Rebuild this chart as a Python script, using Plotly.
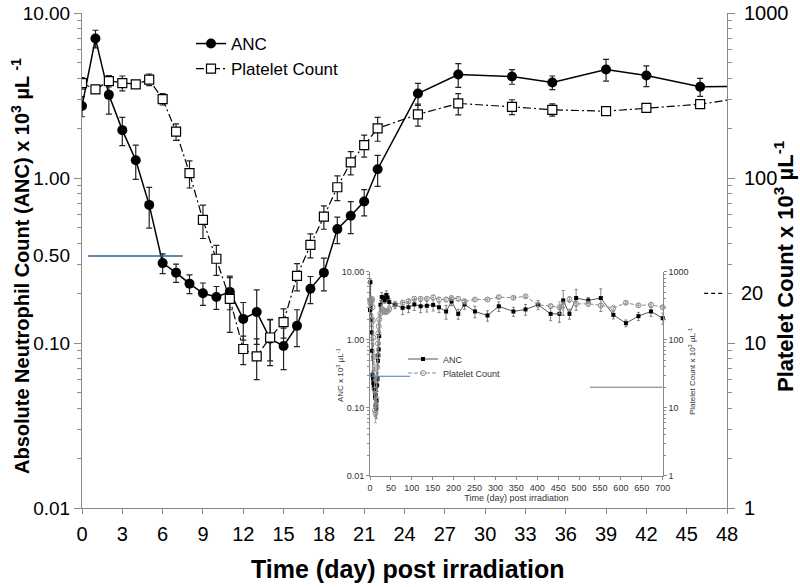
import plotly.graph_objects as go
import math

# ---------------- data (main panel, first 48 days) ----------------
days = [0, 1, 2, 3, 4, 5, 6, 7, 8, 9, 10, 11, 12, 13, 14, 15, 16, 17, 18, 19, 20, 21, 22,
        25, 28, 32, 35, 39, 42, 46, 49]
anc = [2.73, 7.0, 3.19, 1.95, 1.28, 0.687, 0.305, 0.267, 0.229, 0.200, 0.190, 0.204, 0.140,
       0.154, 0.106, 0.096, 0.127, 0.213, 0.267, 0.49, 0.59, 0.72, 1.13,
       3.25, 4.24, 4.12, 3.79, 4.55, 4.18, 3.57, 3.6]
anc_se = [0.38, 0.86, 0.75, 0.38, 0.30, 0.19, 0.042, 0.034, 0.030, 0.031, 0.030, 0.045, 0.036,
          0.056, 0.033, 0.027, 0.032, 0.040, 0.060, 0.09, 0.13, 0.13, 0.24,
          0.5, 0.7, 0.42, 0.36, 0.68, 0.6, 0.45, 0.45]
plt = [376, 344, 387, 376, 369, 395, 301, 191, 107, 55.7, 32.4, 18.5, 9.2, 8.3, 10.8, 13.4,
       25.5, 39.3, 58.3, 87.9, 124.5, 158, 200, 243, 283, 270, 259, 254, 266, 280, 305]
plt_se = [30, 18, 31, 39, 15, 32, 24, 22, 20, 12.7, 6.7, 6.9, 1.8, 2.3, 3.0, 2.7, 4.8, 6.5,
          9.4, 15, 20, 24, 33, 37, 42, 28, 22, 10, 10, 10, 10]

# ---------------- data (inset, long-term follow-up) ----------------
days_lt = [60, 78, 92, 106, 121, 136, 151, 165, 182, 195, 211, 226, 251, 281, 308, 343, 372,
           402, 432, 453, 462, 477, 493, 522, 552, 582, 612, 642, 672, 700]
anc_lt = [3.26, 2.94, 3.0, 3.3, 3.1, 3.15, 3.25, 3.0, 2.6, 3.66, 2.4, 3.3, 2.6, 2.27, 3.1, 2.6,
          2.79, 3.26, 2.4, 2.4, 3.78, 2.4, 4.1, 3.78, 4.1, 2.32, 1.75, 2.22, 2.6, 2.07]
anc_lt_se = [0.4, 0.6, 0.5, 0.6, 0.6, 0.6, 0.6, 0.5, 0.6, 0.5, 0.4, 0.5, 0.5, 0.4, 0.5, 0.4,
             0.5, 0.5, 0.5, 0.6, 1.5, 0.4, 1.4, 0.4, 1.5, 0.3, 0.2, 0.3, 0.4, 0.4]
plt_lt = [330, 349, 366, 400, 400, 400, 419, 390, 390, 410, 400, 366, 390, 390, 423, 414, 434,
          326, 312, 300, 320, 392, 337, 337, 320, 292, 349, 320, 326, 300]
plt_lt_se = [30, 30, 30, 30, 30, 30, 30, 30, 30, 30, 30, 30, 20, 20, 20, 20, 20, 20, 20, 60,
             40, 40, 30, 30, 20, 20, 20, 20, 20, 20]

# threshold reference marks
anc_mark_value = 0.337          # drawn level labelled "0.50" in the original
anc_mark_days = [0.45, 7.5]
plt_mark_value = 20
plt_mark_days = [46.3, 47.8]
inset_anc_mark_value = 0.29
inset_anc_mark_days = [0, 96]
inset_plt_mark_value = 20
inset_plt_mark_days = [526, 700]

x_ticks = list(range(0, 49, 3))
inset_x_ticks = list(range(0, 701, 50))

def minor_vals(lo, hi):
    out = []
    for k in range(math.floor(lo) - 1, math.ceil(hi) + 1):
        for m in range(2, 10):
            v = m * 10 ** k
            if 10 ** lo < v < 10 ** hi:
                out.append(v)
    return out

AX = "#8a8a8a"
FONT = "Liberation Sans, Arial, sans-serif"

fig = go.Figure()

# main traces
fig.add_trace(go.Scatter(
    x=days, y=anc, name="ANC", mode="lines+markers", xaxis="x", yaxis="y",
    line=dict(color="black", width=1.5),
    marker=dict(symbol="circle", size=10, color="black"),
    error_y=dict(type="data", array=anc_se, color="#222", thickness=1.2, width=3),
    legend="legend"))
fig.add_trace(go.Scatter(
    x=days, y=plt, name="Platelet Count", mode="lines+markers", xaxis="x", yaxis="y2",
    line=dict(color="black", width=1.2, dash="8px,3px,2px,3px"),
    marker=dict(symbol="square", size=9, color="white", line=dict(color="black", width=1.2)),
    error_y=dict(type="data", array=plt_se, color="#222", thickness=1.2, width=3),
    legend="legend"))

# inset traces
inset_days = days[:-1] + days_lt
inset_anc = anc[:-1] + anc_lt
inset_anc_se = anc_se[:-1] + anc_lt_se
inset_plt = plt[:-1] + plt_lt
inset_plt_se = plt_se[:-1] + plt_lt_se

fig.add_trace(go.Scatter(
    x=inset_days, y=inset_plt, name="Platelet Count", mode="lines+markers",
    xaxis="x3", yaxis="y4",
    line=dict(color="#8c8c8c", width=1, dash="4px,2px"),
    marker=dict(symbol="circle-open", size=5, color="#8c8c8c", line=dict(width=1)),
    error_y=dict(type="data", array=inset_plt_se, color="#9a9a9a", thickness=0.8, width=1.5),
    legend="legend3", cliponaxis=False))
fig.add_trace(go.Scatter(
    x=inset_days, y=inset_anc, name="ANC", mode="lines+markers",
    xaxis="x3", yaxis="y3",
    line=dict(color="#555", width=1),
    marker=dict(symbol="square", size=4, color="black"),
    error_y=dict(type="data", array=inset_anc_se, color="#666", thickness=0.8, width=1.5),
    legend="legend2", cliponaxis=False))

# reference marks
fig.add_trace(go.Scatter(x=anc_mark_days, y=[anc_mark_value] * 2, mode="lines",
                         xaxis="x", yaxis="y", showlegend=False,
                         line=dict(color="#2f5f9a", width=1.5)))
fig.add_trace(go.Scatter(x=plt_mark_days, y=[plt_mark_value] * 2, mode="lines",
                         xaxis="x", yaxis="y2", showlegend=False,
                         line=dict(color="black", width=1.3, dash="4px,3px")))
fig.add_trace(go.Scatter(x=inset_anc_mark_days, y=[inset_anc_mark_value] * 2, mode="lines",
                         xaxis="x3", yaxis="y3", showlegend=False,
                         line=dict(color="#4a7ab0", width=1)))
fig.add_trace(go.Scatter(x=inset_plt_mark_days, y=[inset_plt_mark_value] * 2, mode="lines",
                         xaxis="x3", yaxis="y4", showlegend=False,
                         line=dict(color="#777", width=1)))

# plot-area geometry (pixels)
L, R, T, B = 82, 73, 13, 79
PW = 800 - L - R
PH = 587 - T - B
def px_x(px):
    return (px - L) / PW
def px_y(py):
    return (587 - B - py) / PH

inset_dx = [px_x(370), px_x(662.7)]
inset_dy = [px_y(475.7), px_y(271.7)]

fig.update_layout(
    width=800, height=587,
    margin=dict(l=L, r=R, t=T, b=B, autoexpand=False),
    paper_bgcolor="white", plot_bgcolor="white",
    font=dict(family=FONT, color="black"),
    xaxis=dict(range=[0, 48], tickvals=x_ticks, showgrid=False, zeroline=False,
               showline=True, linecolor=AX, linewidth=1, ticks="outside", ticklen=5,
               tickcolor=AX, tickfont=dict(size=20), domain=[0, 1], automargin=False,
               ticklabelstandoff=3),
    yaxis=dict(type="log", range=[-2, 1], showgrid=False, zeroline=False,
               showline=True, linecolor=AX, linewidth=1, ticks="outside", ticklen=7,
               tickcolor=AX, domain=[0, 1], automargin=False,
               tickvals=[0.01, 0.1, 1, 10],
               ticktext=["0.01", "0.10", "1.00", "10.00"],
               tickfont=dict(size=19),
               minor=dict(tickvals=minor_vals(-2, 1), ticks="outside",
                          ticklen=4, tickcolor=AX)),
    yaxis2=dict(type="log", range=[0, 3], overlaying="y", side="right",
                showgrid=False, zeroline=False, showline=True, linecolor=AX, linewidth=1,
                ticks="outside", ticklen=7, tickcolor=AX, automargin=False,
                tickvals=[1, 10, 100, 1000],
                ticktext=["1", "10", "100", "1000"],
                tickfont=dict(size=20), ticklabelstandoff=5,
                minor=dict(tickvals=minor_vals(0, 3), ticks="outside",
                           ticklen=4, tickcolor=AX)),
    xaxis3=dict(domain=inset_dx, anchor="y3", range=[0, 700], tickvals=inset_x_ticks,
                showgrid=False, zeroline=False, showline=True, linecolor=AX, linewidth=1,
                ticks="outside", ticklen=3, tickcolor=AX, automargin=False,
                tickfont=dict(size=9, color="#333"),
                title=dict(text="Time (day) post irradiation", font=dict(size=9, color="#333"),
                           standoff=3)),
    yaxis3=dict(domain=inset_dy, anchor="x3", type="log", range=[-2, 1],
                tickvals=[0.01, 0.1, 1, 10], ticktext=["0.01", "0.10", "1.00", "10.00"],
                showgrid=False, zeroline=False, showline=True, linecolor=AX, linewidth=1,
                ticks="outside", ticklen=3, tickcolor=AX, automargin=False,
                tickfont=dict(size=9, color="#333"),
                minor=dict(tickvals=minor_vals(-2, 1), ticks="outside", ticklen=2, tickcolor=AX)),
    yaxis4=dict(anchor="x3", overlaying="y3", side="right", type="log", range=[0, 3],
                tickvals=[1, 10, 100, 1000], ticktext=["1", "10", "100", "1000"],
                showgrid=False, zeroline=False, showline=True, linecolor=AX, linewidth=1,
                ticks="outside", ticklen=3, tickcolor=AX, automargin=False,
                tickfont=dict(size=9, color="#333"),
                minor=dict(tickvals=minor_vals(0, 3), ticks="outside", ticklen=2, tickcolor=AX)),
    legend=dict(x=px_x(191), y=px_y(26), xanchor="left", yanchor="top",
                bgcolor="rgba(0,0,0,0)", font=dict(size=17), traceorder="normal",
                itemwidth=30, tracegroupgap=0),
    legend2=dict(x=px_x(403), y=px_y(359), xanchor="left", yanchor="middle",
                 bgcolor="rgba(0,0,0,0)", font=dict(size=9, color="#333"), itemwidth=30),
    legend3=dict(x=px_x(403), y=px_y(373), xanchor="left", yanchor="middle",
                 bgcolor="rgba(0,0,0,0)", font=dict(size=9, color="#333"), itemwidth=30),
    showlegend=True,
)

annotations = [
    dict(text="<b>Time (day) post irradiation</b>", x=px_x(407), y=px_y(569),
         xref="paper", yref="paper", xanchor="center", yanchor="middle", showarrow=False,
         font=dict(size=25)),
    dict(text="<b>Absolute Neutrophil Count (ANC) x 10<sup>3</sup> µL <sup>-1</sup></b>",
         x=px_x(20), y=px_y(266), xref="paper", yref="paper", xanchor="center",
         yanchor="middle", showarrow=False, textangle=-90, font=dict(size=20)),
    dict(text="<b>Platelet Count x 10<sup>3</sup> µL<sup>-1</sup></b>",
         x=px_x(784), y=px_y(266), xref="paper", yref="paper", xanchor="center",
         yanchor="middle", showarrow=False, textangle=-90, font=dict(size=22)),
    dict(text="0.50", x=0, xanchor="right", xshift=-10, y=math.log10(anc_mark_value),
         xref="paper", yref="y", yanchor="middle", showarrow=False, font=dict(size=19)),
    dict(text="20", x=1, xanchor="left", xshift=12, y=math.log10(plt_mark_value),
         xref="paper", yref="y2", yanchor="middle", showarrow=False, font=dict(size=20)),
    dict(text="ANC x 10<sup>3</sup> µL<sup>-1</sup>", x=px_x(340), y=px_y(375),
         xref="paper", yref="paper", xanchor="center", yanchor="middle", showarrow=False,
         textangle=-90, font=dict(size=8, color="#333")),
    dict(text="Platelet Count x 10<sup>3</sup> µL<sup>-1</sup>", x=px_x(692), y=px_y(372),
         xref="paper", yref="paper", xanchor="center", yanchor="middle", showarrow=False,
         textangle=-90, font=dict(size=8, color="#333")),
]
fig.update_layout(annotations=annotations)

fig.write_html("out.html", config={"displayModeBar": False},
               post_script="document.body.style.margin='0px';")
